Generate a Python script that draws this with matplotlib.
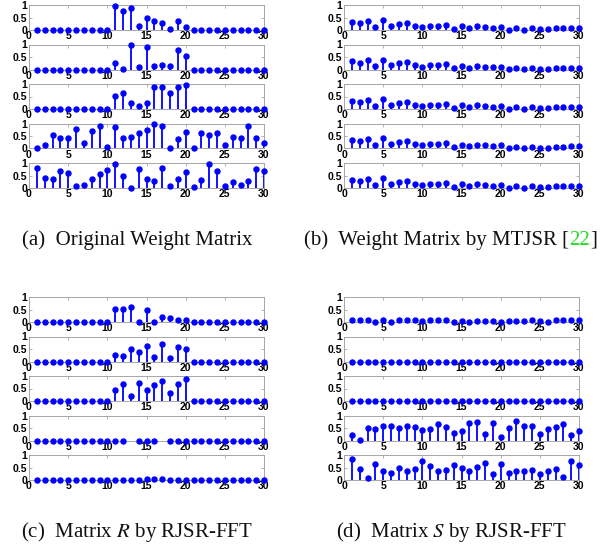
# Stem plots of the weight matrices (4 panels, 5 tasks each)

import numpy as np
import matplotlib
matplotlib.use("Agg")
import matplotlib.pyplot as plt

nan = float("nan")
idx = list(range(1, 31))

# (a) original weight matrix
a1 = [0, 0, 0, 0, 0, 0, 0, 0, 0, 0, 0.95, 0.75, 0.88, 0.18, 0.48, 0.35, 0.30, 0.05, 0.38, 0.13, 0, 0, 0, 0, 0, 0, 0, 0, 0, 0]
a2 = [0, 0, 0, 0, 0, 0, 0, 0, 0, 0, 0.25, 0.03, 0.98, 0.10, 0.92, 0.13, 0.20, 0.15, 0.77, 0.55, 0, 0, 0, 0, 0, 0, 0, 0, 0, 0]
a3 = [0, 0, 0, 0, 0, 0, 0, 0, 0, 0, 0.53, 0.65, 0.25, 0.13, 0.25, 0.88, 0.88, 0.65, 0.88, 0.95, 0, 0, 0, 0, 0, 0, 0, 0, 0, 0]
a4 = [0.02, 0.15, 0.53, 0.43, 0.42, 0.80, 0.20, 0.68, 0.92, 0.05, 0.87, 0.43, 0.45, 0.60, 0.73, 0.97, 0.92, 0.03, 0.38, 0.65,
      0.03, 0.60, 0.52, 0.60, 0.15, 0.45, 0.42, 0.90, 0.40, 0.20]
a5 = [0.80, 0.42, 0.38, 0.70, 0.60, 0.08, 0.12, 0.37, 0.55, 0.73, 0.97, 0.48, 0.02, 0.77, 0.35, 0.30, 0.82, 0.10, 0.38, 0.63,
      0.03, 0.32, 0.95, 0.67, 0.08, 0.25, 0.13, 0.27, 0.77, 0.70]

# (b) MTJSR weights, nearly identical for every task
b_row = [0.33, 0.28, 0.37, 0.13, 0.40, 0.18, 0.25, 0.30, 0.18, 0.12, 0.17, 0.17, 0.22, 0.05, 0.15, 0.08, 0.15, 0.12, 0.10, 0.12,
         0.02, 0.07, 0.02, 0.07, 0.03, 0.03, 0.07, 0.07, 0.08, 0.08]

# (c) matrix R
c1 = [0, 0, 0, 0, 0, 0, 0, 0, 0, 0, 0.53, 0.53, 0.62, 0.02, 0.48, 0.02, 0.22, 0.17, 0.08, 0.08, 0, 0, 0, 0, 0, 0, 0, 0, 0, 0]
c2 = [0, 0, 0, 0, 0, 0, 0, 0, 0, 0, 0.27, 0.23, 0.50, 0.37, 0.62, 0.17, 0.70, 0.13, 0.57, 0.52, 0, 0, 0, 0, 0, 0, 0, 0, 0, 0]
c3 = [0, 0, 0, 0, 0, 0, 0, 0, 0, 0, 0.45, 0.70, 0.22, 0.72, 0.45, 0.65, 0.82, 0.33, 0.67, 0.87, 0, 0, 0, 0, 0, 0, 0, 0, 0, 0]
c4 = [0, 0, 0, 0, 0, 0, 0, 0, 0, 0, 0, 0, nan, 0, 0, 0, nan, 0, 0, 0, 0, 0, 0, 0, 0, 0, 0, 0, 0, 0]
c5 = [0, 0, 0, 0, 0, 0, 0, 0, 0, 0, 0.02, 0.02, 0.01, 0, 0.05, 0.04, 0.03, 0.02, 0.02, 0.02, 0, 0, 0, 0, 0, 0, 0, 0, 0, 0]

# (d) matrix S
d1 = [0.10, 0.07, 0.08, 0.0, 0.08, 0.02, 0.08, 0.08, 0.08, 0.03, 0.07, 0.07, 0.07, 0.0, 0.05, 0.0, 0.05, 0.03, 0.03, 0.02,
      0.05, 0.05, 0.05, 0.07, 0.03, 0.0, 0.07, 0.08, 0.08, 0.07]
d2 = [0] * 30
d3 = [0, 0, 0, 0.02, 0, 0.02, 0, 0, 0, 0, 0, 0, 0, 0, 0, 0, 0, 0, 0, 0, 0, 0, 0, 0, 0, 0, 0, 0, 0.02, 0]
d4 = [0.22, 0.02, 0.50, 0.45, 0.58, 0.57, 0.52, 0.60, 0.55, 0.43, 0.48, 0.67, 0.55, 0.32, 0.40, 0.70, 0.75, 0.27, 0.70, 0.15,
      0.50, 0.77, 0.60, 0.57, 0.27, 0.48, 0.55, 0.65, 0.22, 0.37]
d5 = [0.85, 0.45, 0.10, 0.65, 0.37, 0.28, 0.48, 0.38, 0.45, 0.75, 0.55, 0.37, 0.40, 0.60, 0.50, 0.37, 0.52, 0.70, 0.25, 0.65,
      0.27, 0.35, 0.37, 0.42, 0.25, 0.38, 0.45, 0.13, 0.75, 0.62]

xticks = [0, 5, 10, 15, 20, 25, 30]
yticks = [0, 0.5, 1]
ytick_labels = ["0", "0.5", "1"]

panels = [
    ([a1, a2, a3, a4, a5], 29, 5),
    ([b_row] * 5, 344, 5),
    ([c1, c2, c3, c4, c5], 29, 297),
    ([d1, d2, d3, d4, d5], 344, 297),
]

plt.rcParams["mathtext.fontset"] = "stix"

W, H = 613, 546
fig = plt.figure(figsize=(W / 100, H / 100), dpi=100)

blue = "#0000ff"
frame = "#a6a6a6"
tick_font = dict(family="Liberation Sans", fontweight="bold", fontsize=7.5)

for rows, left, top in panels:
    for i, vals in enumerate(rows):
        y0 = top + i * 39.5
        ax = fig.add_axes([left / W, 1 - (y0 + 25) / H, 235 / W, 25 / H])
        v = np.array(vals, dtype=float)
        ax.vlines(idx, 0, v, color=blue, lw=1.3, clip_on=False)
        ax.plot(idx, v, "o", color=blue, ms=3.6, mec=blue, clip_on=False, zorder=3)
        ax.set_xlim(0, 30)
        ax.set_ylim(0, 1)
        ax.set_xticks(xticks)
        ax.set_xticklabels([str(t) for t in xticks], **tick_font)
        ax.set_yticks(yticks)
        ax.set_yticklabels(ytick_labels, **tick_font)
        ax.tick_params(direction="in", length=2, width=0.6, color=frame, pad=1,
                       top=True, right=True)
        for s in ax.spines.values():
            s.set_color(frame)
            s.set_linewidth(0.7)

cap = dict(fontsize=15, family="Liberation Serif", ha="center", va="center", color="#111111")
fig.text(137 / W, 1 - 240 / H, "(a)  Original Weight Matrix", **cap)
tb = fig.text(437 / W, 1 - 240 / H, "(b)  Weight Matrix by MTJSR [", **cap)
fig.text(137 / W, 1 - 532 / H, "(c)  Matrix $R$ by RJSR-FFT", **cap)
fig.text(451 / W, 1 - 532 / H, "(d)  Matrix $S$ by RJSR-FFT", **cap)

t22 = plt.annotate("22", xy=(1, 0), xycoords=tb, va="bottom", ha="left",
                   fontsize=15, family="Liberation Serif", color="#22dd22")
plt.annotate("]", xy=(1, 0), xycoords=t22, va="bottom", ha="left",
             fontsize=15, family="Liberation Serif", color="#111111")

fig.savefig("out.png", dpi=100)
